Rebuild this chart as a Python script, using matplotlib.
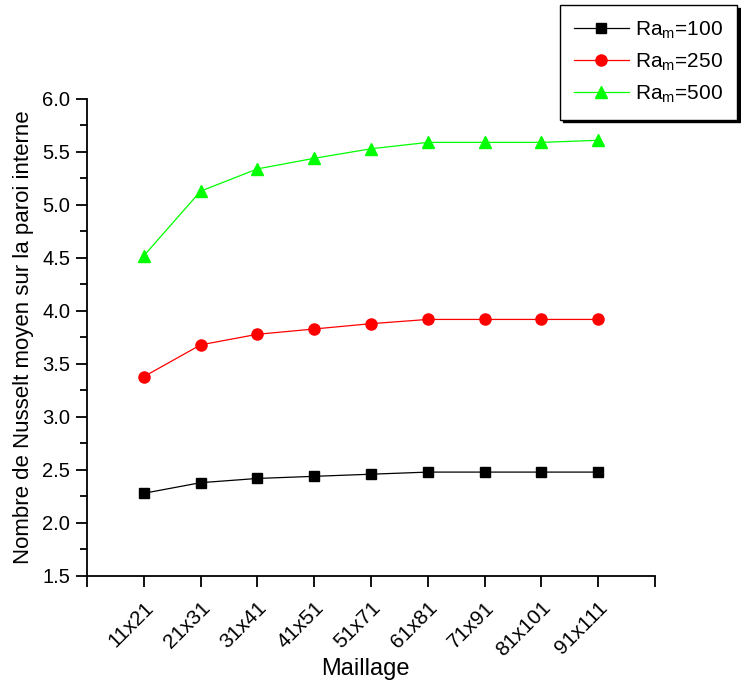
import matplotlib
matplotlib.use('Agg')
import matplotlib.pyplot as plt
from matplotlib.ticker import MultipleLocator

plt.rcParams['font.family'] = ['Liberation Sans', 'DejaVu Sans']
plt.rcParams['mathtext.fontset'] = 'custom'
plt.rcParams['mathtext.rm'] = 'Liberation Sans'

maillage = ['11x21', '21x31', '31x41', '41x51', '51x71', '61x81', '71x91', '81x101', '91x111']
nu_100 = [2.28, 2.38, 2.42, 2.44, 2.46, 2.48, 2.48, 2.48, 2.48]
nu_250 = [3.38, 3.68, 3.78, 3.83, 3.88, 3.92, 3.92, 3.92, 3.92]
nu_500 = [4.52, 5.13, 5.34, 5.44, 5.53, 5.59, 5.59, 5.59, 5.61]

fig = plt.figure(figsize=(7.41, 6.87), dpi=100)
ax = fig.add_axes([0.1174, 0.1616, 0.7666, 0.6944])

x = list(range(1, len(maillage) + 1))
l1, = ax.plot(x, nu_100, '-', color='black', lw=0.9, marker='s', ms=6.5, label=r'Ra$_\mathrm{m}$=100')
l2, = ax.plot(x, nu_250, '-', color='red', lw=0.9, marker='o', ms=8, label=r'Ra$_\mathrm{m}$=250')
l3, = ax.plot(x, nu_500, '-', color='#00ff00', lw=0.9, marker='^', ms=8.5, label=r'Ra$_\mathrm{m}$=500')

ax.set_xlim(0, 10)
ax.set_ylim(1.5, 6.0)
ax.set_xticks([0] + x + [10])
ax.set_xticklabels([''] + maillage + [''], rotation=45, ha='right', va='top',
                   rotation_mode='anchor', fontsize=15)
ax.yaxis.set_major_locator(MultipleLocator(0.5))
ax.yaxis.set_minor_locator(MultipleLocator(0.25))
ax.set_yticklabels([f'{v:.1f}' for v in ax.get_yticks()], fontsize=14.5)

for s in ['top', 'right']:
    ax.spines[s].set_visible(False)
for s in ['left', 'bottom']:
    ax.spines[s].set_linewidth(1.3)
ax.tick_params(axis='both', which='major', direction='out', length=8, width=1.3, pad=4)
ax.tick_params(axis='x', which='major', pad=8)
ax.tick_params(axis='y', which='minor', direction='out', length=5, width=1.3)

ax.set_xlabel('Maillage', fontsize=17)
ax.xaxis.set_label_coords(0.49, -0.172)
ax.set_ylabel('Nombre de Nusselt moyen sur la paroi interne', fontsize=16, labelpad=6)

leg = fig.legend(handles=[l1, l2, l3], loc='upper right', bbox_to_anchor=(0.995, 0.993),
                 fontsize=15, handlelength=2.6, fancybox=False, framealpha=1,
                 edgecolor='black', borderpad=0.7, labelspacing=0.5, handletextpad=0.3,
                 borderaxespad=0.0, shadow={'color': 'black', 'alpha': 1})
leg.get_frame().set_linewidth(1.0)

fig.savefig('out.png', dpi=100)
